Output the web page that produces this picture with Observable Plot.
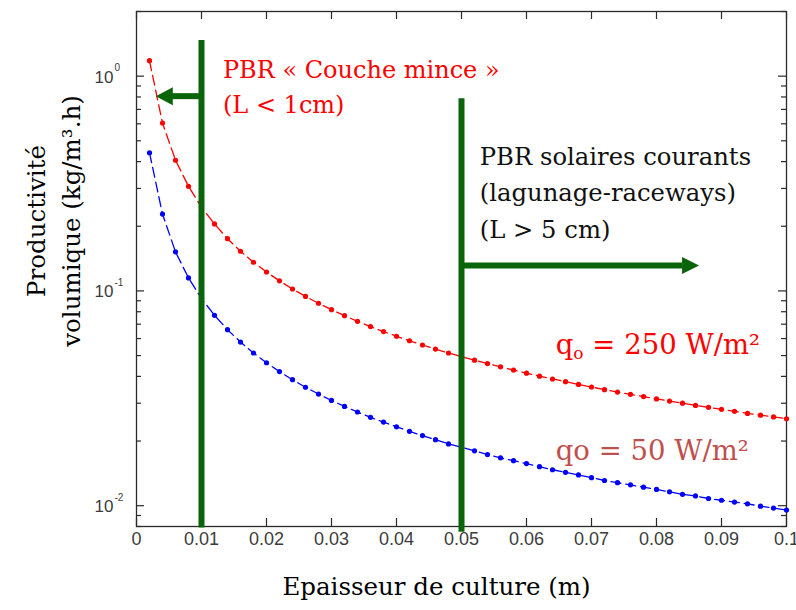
<!DOCTYPE html>
<html><head><meta charset="utf-8">
<script src="https://cdn.jsdelivr.net/npm/d3@7"></script>
<script src="https://cdn.jsdelivr.net/npm/@observablehq/plot@0.6"></script>
<style>
html,body{margin:0;padding:0;background:#fff;}
</style></head><body><div id="chart"></div>
<script>
// Epaisseur de culture L (m)
const thickness = [0.002,0.004,0.006,0.008,0.010,0.012,0.014,0.016,0.018,0.020,
  0.022,0.024,0.026,0.028,0.030,0.032,0.034,0.036,0.038,0.040,
  0.042,0.044,0.046,0.048,0.050,0.052,0.054,0.056,0.058,0.060,
  0.062,0.064,0.066,0.068,0.070,0.072,0.074,0.076,0.078,0.080,
  0.082,0.084,0.086,0.088,0.090,0.092,0.094,0.096,0.098,0.100];
// Productivité volumique (kg/m3.h), qo = 250 W/m2
const prod250 = [1.18,0.605,0.406,0.307,0.245,0.205,0.175,0.153,0.136,0.1225,
  0.1114,0.1021,0.0943,0.0876,0.0818,0.0767,0.0722,0.0682,0.0647,0.0615,
  0.0586,0.0560,0.0536,0.0514,0.0494,0.0476,0.0459,0.0443,0.0428,0.0414,
  0.0401,0.0389,0.0378,0.0367,0.0357,0.0347,0.0338,0.0330,0.0322,0.0314,
  0.0307,0.0300,0.0293,0.0287,0.0281,0.0275,0.0269,0.0264,0.0259,0.0254];
// qo = 50 W/m2
const prod50 = [0.44,0.228,0.152,0.115,0.0922,0.0770,0.0660,0.0578,0.0514,0.0463,
  0.0421,0.0386,0.0356,0.0331,0.0309,0.0290,0.0273,0.0258,0.0245,0.0233,
  0.0222,0.0212,0.0203,0.0194,0.0187,0.0180,0.0173,0.0167,0.0162,0.0157,
  0.0152,0.0147,0.0143,0.0139,0.0135,0.0131,0.0128,0.0125,0.0122,0.0119,
  0.0116,0.0113,0.0111,0.0108,0.0106,0.0104,0.0102,0.00995,0.00975,0.00955];

const xTicks = [0,0.01,0.02,0.03,0.04,0.05,0.06,0.07,0.08,0.09,0.1];
const xTickLabels = ["0","0.01","0.02","0.03","0.04","0.05","0.06","0.07","0.08","0.09","0.1"];
const yMajorTicks = [0.01,0.1,1];
const yTickBase = ["10","10","10"];
const yTickExp = ["-2","-1","0"];
const yMinorTicks = [0.008,0.009,0.02,0.03,0.04,0.05,0.06,0.07,0.08,0.09,0.2,0.3,0.4,0.5,0.6,0.7,0.8,0.9,2];

// Annotations (data coordinates)
const zoneLimits = [0.01, 0.05];
const zoneTops = [1.466, 0.785];
const zoneBottoms = [0.00787, 0.00753];
const arrowY = [0.807, 0.1315];
const arrowFrom = [0.01, 0.05];
const arrowBase = [0.00554, 0.0840];
const arrowTip = [0.00297, 0.08655];
const zoneTexts = ["PBR « Couche mince »\n(L < 1cm)", "PBR solaires courants\n(lagunage-raceways)\n(L > 5 cm)"];
const zoneTextX = [0.0133, 0.0528];
const zoneTextY = [1.264, 0.510];
const seriesLabels = ["qo = 250 W/m²", "qo = 50 W/m²"];
const seriesLabelX = [0.0645, 0.0645];
const seriesLabelY = [0.0561, 0.01802];

const W = 796, H = 610, mL = 136, mR = 10, mT = 11, mB = 84;
const pw = W - mL - mR, ph = H - mT - mB;
const green = "#0a640a";
const axisColor = "#2a2a2a";
const tickText = "#3c3c3c";
const sans = "'Liberation Sans', Arial, sans-serif";
const serif = "'DejaVu Serif', serif";

const rows = thickness.map((L, i) => ({L, p250: prod250[i], p50: prod50[i]}));
const zones = zoneLimits.map((x, i) => ({
  x, top: zoneTops[i], bottom: zoneBottoms[i], ay: arrowY[i], from: arrowFrom[i],
  base: arrowBase[i], tip: arrowTip[i], text: zoneTexts[i], tx: zoneTextX[i], ty: zoneTextY[i]
}));

const headLeft = {draw(ctx) { ctx.moveTo(0, 0); ctx.lineTo(17, -9); ctx.lineTo(17, 9); ctx.closePath(); }};
const headRight = {draw(ctx) { ctx.moveTo(0, 0); ctx.lineTo(-17, -8.5); ctx.lineTo(-17, 8.5); ctx.closePath(); }};

const chart = Plot.plot({
  width: W, height: H,
  marginLeft: mL, marginRight: mR, marginTop: mT, marginBottom: mB,
  style: {background: "#fff"},
  x: {domain: [0, 0.1], label: null, axis: null},
  y: {type: "log", domain: [0.008, 2.0], label: null, axis: null},
  marks: [
    // inward ticks
    Plot.tickX(xTicks, {x: d => d, insetTop: ph - 8, stroke: axisColor, strokeWidth: 1.2}),
    Plot.tickX(xTicks, {x: d => d, insetBottom: ph - 8, stroke: axisColor, strokeWidth: 1.2}),
    Plot.tickY(yMajorTicks, {y: d => d, insetRight: pw - 8, stroke: axisColor, strokeWidth: 1.2}),
    Plot.tickY(yMajorTicks, {y: d => d, insetLeft: pw - 8, stroke: axisColor, strokeWidth: 1.2}),
    Plot.tickY(yMinorTicks, {y: d => d, insetRight: pw - 5, stroke: axisColor, strokeWidth: 1.2}),
    Plot.tickY(yMinorTicks, {y: d => d, insetLeft: pw - 5, stroke: axisColor, strokeWidth: 1.2}),
    // tick labels
    Plot.text(xTicks, {x: d => d, frameAnchor: "bottom", dy: 18, text: (d, i) => xTickLabels[i],
      fill: tickText, fontFamily: sans, fontSize: 18}),
    Plot.text(yMajorTicks, {y: d => d, frameAnchor: "left", dx: -23, dy: 1, textAnchor: "end", text: (d, i) => yTickBase[i],
      fill: tickText, fontFamily: sans, fontSize: 17}),
    Plot.text(yMajorTicks, {y: d => d, frameAnchor: "left", dx: -22, dy: -8, textAnchor: "start", text: (d, i) => yTickExp[i],
      fill: tickText, fontFamily: sans, fontSize: 10}),
    Plot.frame({stroke: axisColor, strokeWidth: 1.3}),
    // series
    Plot.line(rows, {x: "L", y: "p250", stroke: "#ff0000", strokeWidth: 1.3, strokeDasharray: "10,5"}),
    Plot.dot(rows, {x: "L", y: "p250", fill: "#ff0000", r: 2.6}),
    Plot.line(rows, {x: "L", y: "p50", stroke: "#0000ff", strokeWidth: 1.3, strokeDasharray: "10,5"}),
    Plot.dot(rows, {x: "L", y: "p50", fill: "#0000ff", r: 2.6}),
    // zone limits and arrows
    Plot.ruleX(zones, {x: "x", y1: "bottom", y2: "top", stroke: green, strokeWidth: 6}),
    Plot.ruleY(zones, {y: "ay", x1: "from", x2: "base", stroke: green, strokeWidth: 6}),
    Plot.dot(zones.slice(0, 1), {x: "tip", y: "ay", symbol: headLeft, fill: green, stroke: "none"}),
    Plot.dot(zones.slice(1, 2), {x: "tip", y: "ay", symbol: headRight, fill: green, stroke: "none"}),
    // zone texts
    Plot.text(zones.slice(0, 1), {x: "tx", y: "ty", text: "text", textAnchor: "start", lineAnchor: "top",
      fill: "#ff0000", fontFamily: serif, fontSize: 24, lineHeight: 1.42}),
    Plot.text(zones.slice(1, 2), {x: "tx", y: "ty", text: "text", textAnchor: "start", lineAnchor: "top",
      fill: "#111", fontFamily: serif, fontSize: 24.3, lineHeight: 1.5}),
    // series labels
    Plot.text(seriesLabels, {x: (d, i) => seriesLabelX[i], y: (d, i) => seriesLabelY[i], text: d => d,
      textAnchor: "start", fill: (d, i) => i === 0 ? "#ff0000" : "#c0504d",
      fontFamily: serif, fontSize: 27.5}),
    // axis titles
    Plot.text(["Epaisseur de culture (m)"], {frameAnchor: "bottom", dx: -25, dy: 68, text: d => d,
      fill: "#000", fontFamily: serif, fontSize: 24.5}),
    Plot.text(["Productivité\nvolumique (kg/m³.h)"], {frameAnchor: "left", dx: -85, dy: -48, rotate: -90,
      textAnchor: "middle", text: d => d, fill: "#000", fontFamily: serif, fontSize: 24.5, lineHeight: 1.4})
  ]
});
// subscript "o" in the first series label
chart.querySelectorAll("text").forEach(t => {
  if (t.textContent === seriesLabels[0] && t.children.length === 0) {
    const ns = "http://www.w3.org/2000/svg";
    t.textContent = "q";
    const sub = document.createElementNS(ns, "tspan");
    sub.setAttribute("dy", "0.3em");
    sub.setAttribute("font-size", "0.62em");
    sub.textContent = "o";
    const rest = document.createElementNS(ns, "tspan");
    rest.setAttribute("dy", "-0.186em");
    rest.textContent = seriesLabels[0].slice(2);
    t.appendChild(sub);
    t.appendChild(rest);
  }
});
document.getElementById("chart").appendChild(chart);
</script>
</body></html>
